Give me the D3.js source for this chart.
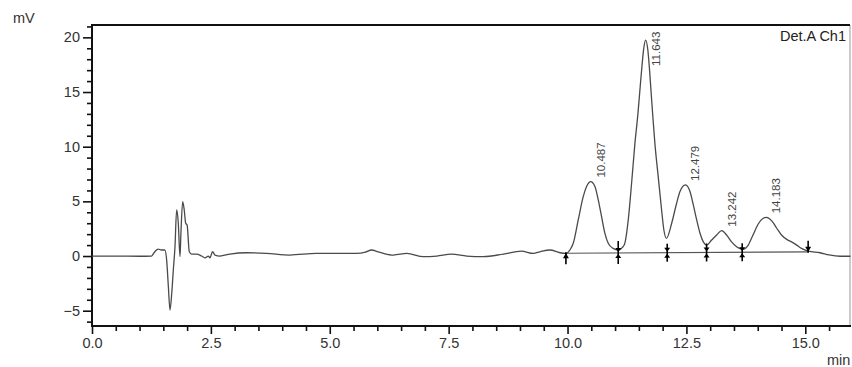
<!DOCTYPE html>
<html><head><meta charset="utf-8">
<script src="https://cdn.jsdelivr.net/npm/d3@7"></script>
<style>
body{margin:0;background:#fff}
svg{display:block}
text{font-family:"Liberation Sans",Arial,sans-serif}
</style>
</head><body>
<svg id="c" width="852" height="367"></svg>
<script>
// ---- data ----
const xTicks = [0, 2.5, 5, 7.5, 10, 12.5, 15];
const yTicks = [-5, 0, 5, 10, 15, 20];

const traceTime = [
  0.00, 0.50, 1.00, 1.25, 1.32, 1.39, 1.46, 1.53, 1.57, 1.606, 1.64, 1.677, 1.71, 1.745,
  1.78, 1.815, 1.85, 1.87, 1.907, 1.94, 1.97, 2.00, 2.046, 2.095, 2.20, 2.305, 2.376,
  2.446, 2.48, 2.536, 2.586, 2.69, 2.90, 3.25, 3.67, 4.16, 4.72, 5.56, 5.75, 5.88, 6.00,
  6.13, 6.34, 6.62, 6.97, 7.25, 7.56, 7.88, 8.23, 8.65, 9.03, 9.28, 9.42, 9.63, 9.84, 9.97,
  10.05, 10.12, 10.225, 10.33, 10.40, 10.487, 10.576, 10.647, 10.716, 10.786, 10.856, 10.96, 11.066,
  11.17, 11.21, 11.277, 11.347, 11.417, 11.48, 11.53, 11.57, 11.60, 11.643, 11.69, 11.72, 11.77,
  11.80, 11.837, 11.907, 11.978, 12.026, 12.08,
  12.19, 12.294, 12.365, 12.479, 12.575, 12.645, 12.716, 12.786, 12.855, 12.926,
  13.03, 13.135, 13.242, 13.345, 13.45, 13.555, 13.68,
  13.80, 13.90, 14.01, 14.115, 14.183, 14.29, 14.40, 14.50, 14.61, 14.71, 14.82, 14.92, 15.06,
  15.31, 15.50, 15.73, 15.95
];
const traceMV = [
  0.00, 0.00, -0.02, 0.00, 0.39, 0.64, 0.55, 0.55, -0.37, -2.81, -4.94, -3.41, -1.28, 0.85,
  4.21, 3.00, -0.06, 2.08, 4.97, 4.21, 3.00, 2.84, 0.39, 0.18, 0.18, 0.00, -0.16,
  0.00, -0.16, 0.39, 0.09, 0.00, 0.18, 0.30, 0.24, 0.09, 0.24, 0.24, 0.35, 0.55, 0.40,
  0.24, 0.09, 0.24, -0.06, 0.00, 0.18, 0.00, -0.06, 0.18, 0.45, 0.24, 0.39, 0.55, 0.30, 0.24,
  0.55, 1.17, 3.30, 5.43, 6.35, 6.81, 6.35, 5.12, 3.60, 2.08, 1.17, 0.70, 0.55,
  0.85, 1.25, 3.30, 6.65, 10.30, 13.00, 15.60, 17.60, 18.90, 19.75, 18.80, 17.30, 14.20,
  12.40, 10.30, 7.26, 4.21, 2.38, 1.62,
  3.00, 4.83, 5.90, 6.50, 5.90, 4.67, 3.30, 2.08, 1.30, 1.00,
  1.46, 1.92, 2.32, 1.92, 1.30, 0.85, 0.61,
  1.00, 1.92, 2.93, 3.45, 3.54, 3.24, 2.54, 1.92, 1.52, 1.30, 1.00, 0.70, 0.45,
  0.30, 0.10, -0.02, -0.02
];

const peakTimes   = [10.487, 11.643, 12.479, 13.242, 14.183];
const peakHeights = [6.81, 19.75, 6.50, 2.32, 3.54];
const peakLabels  = ["10.487", "11.643", "12.479", "13.242", "14.183"];

const markerTimes = [9.966, 11.066, 12.096, 12.924, 13.673, 15.06];
const baselineTime = [9.966, 15.06];
const baselineMV   = [0.25, 0.38];

// ---- layout ----
const svg = d3.select("#c");
const L = 92, R = 850, T = 25, B = 326;
const x = d3.scaleLinear().domain([0, 15.94]).range([L, R]);
const y = d3.scaleLinear().domain([-6.4, 21.13]).range([B, T]);
const tickCol = "#333";

// minor ticks
const xMinor = d3.range(0.5, 15.94, 0.5).filter(v => Math.abs(v / 2.5 - Math.round(v / 2.5)) > 1e-6);
const yMinor = d3.range(-6, 21.5, 1).filter(v => v % 5 !== 0 && v <= 21.13);

const gx = svg.append("g").attr("transform", `translate(0,${B})`);
gx.call(d3.axisBottom(x).tickValues(xMinor).tickSize(5).tickFormat(""));
const gx2 = svg.append("g").attr("transform", `translate(0,${B})`);
gx2.call(d3.axisBottom(x).tickValues(xTicks).tickSize(8).tickPadding(4).tickFormat(d3.format(".1f")));

const gy = svg.append("g").attr("transform", `translate(${L},0)`);
gy.call(d3.axisLeft(y).tickValues(yMinor).tickSize(5).tickFormat(""));
const gy2 = svg.append("g").attr("transform", `translate(${L},0)`);
gy2.call(d3.axisLeft(y).tickValues(yTicks).tickSize(9).tickPadding(3).tickFormat(d3.format("d")));

svg.selectAll(".domain").remove();
svg.selectAll(".tick line").attr("stroke", "#111").attr("stroke-width", 1.6);
svg.selectAll(".tick text").attr("fill", tickCol).style("font-size", "14.5px")
   .style("font-family", '"Liberation Sans",Arial,sans-serif');

// frame
svg.append("line").attr("x1", R).attr("x2", R).attr("y1", T).attr("y2", B)
   .attr("stroke", "#999").attr("stroke-width", 1);
svg.append("line").attr("x1", L).attr("x2", R).attr("y1", T).attr("y2", T)
   .attr("stroke", "#111").attr("stroke-width", 2);
svg.append("line").attr("x1", L).attr("x2", R + 1).attr("y1", B).attr("y2", B)
   .attr("stroke", "#111").attr("stroke-width", 2);
svg.append("line").attr("x1", L).attr("x2", L).attr("y1", T - 1).attr("y2", B + 1)
   .attr("stroke", "#111").attr("stroke-width", 2);

// integration baseline
const bx = d3.scaleLinear().domain(baselineTime).range(baselineMV);
svg.append("line")
   .attr("x1", x(baselineTime[0])).attr("x2", x(baselineTime[1]))
   .attr("y1", y(baselineMV[0])).attr("y2", y(baselineMV[1]))
   .attr("stroke", "#555").attr("stroke-width", 1.1);

// trace
const pts = traceTime.map((t, i) => [t, traceMV[i]]);
const line = d3.line().x(d => x(d[0])).y(d => y(d[1])).curve(d3.curveMonotoneX);
svg.append("path").datum(pts).attr("d", line)
   .attr("fill", "none").attr("stroke", "#4a4a4a").attr("stroke-width", 1.3)
   .attr("stroke-linejoin", "round");

// markers
markerTimes.forEach((t, i) => {
  const px = x(t), py = y(bx(t));
  const g = svg.append("g").attr("stroke", "#000").attr("fill", "#000");
  const last = markerTimes.length - 1;
  let top = py - 9, bot = py + 9;
  if (i === 0) { top = py - 1; bot = py + 11; }
  if (i === 1) { top = py - 12; bot = py + 11; }
  if (i === last) { top = py - 11; bot = py + 1; }
  g.append("line").attr("x1", px).attr("x2", px).attr("y1", top).attr("y2", bot).attr("stroke-width", 1.6);
  if (i === 0) {
    g.append("path").attr("d", `M${px - 3},${py + 5}L${px + 3},${py + 5}L${px},${py}Z`).attr("stroke", "none");
  } else if (i === last) {
    g.append("path").attr("d", `M${px - 3},${py - 5}L${px + 3},${py - 5}L${px},${py}Z`).attr("stroke", "none");
  } else {
    g.append("path").attr("d", `M${px - 3},${py - 5}L${px + 3},${py - 5}L${px},${py - 1}Z`).attr("stroke", "none");
    g.append("path").attr("d", `M${px - 3},${py + 5}L${px + 3},${py + 5}L${px},${py + 1}Z`).attr("stroke", "none");
  }
});

// peak labels
const labelLen = 36;
peakTimes.forEach((t, i) => {
  const px = x(t) + 14;
  let py = y(peakHeights[i]) - 4;
  py = Math.max(py, T + 5 + labelLen);
  svg.append("text").attr("transform", `translate(${px},${py}) rotate(-90)`)
     .attr("fill", "#444").style("font-size", "11.5px").text(peakLabels[i]);
});

// titles
svg.append("text").attr("x", 13).attr("y", 23).attr("fill", "#333").style("font-size", "14.5px").text("mV");
svg.append("text").attr("x", 827).attr("y", 365).attr("fill", "#333").style("font-size", "14.5px").text("min");
svg.append("text").attr("x", 846).attr("y", 41).attr("text-anchor", "end").attr("fill", "#222")
   .style("font-size", "14.5px").text("Det.A Ch1");
</script>
</body></html>
